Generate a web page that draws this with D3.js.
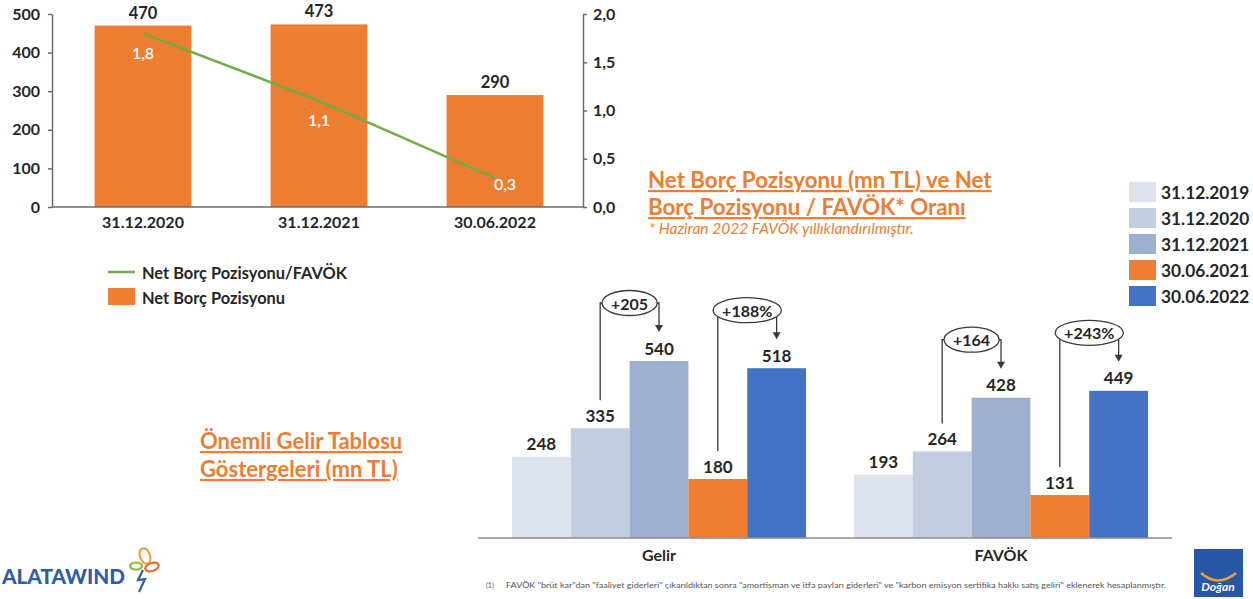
<!DOCTYPE html>
<html><head><meta charset="utf-8">
<script src="https://cdn.jsdelivr.net/npm/d3@7"></script>
<style>
html,body{margin:0;padding:0;background:#fff;}
svg{display:block;font-family:Lato,"Open Sans",sans-serif;}
</style></head>
<body>
<svg id="c" width="1253" height="599"></svg>
<script>
// ---- Top chart data ----
const topDates = ["31.12.2020", "31.12.2021", "30.06.2022"];
const netDebt = [470, 473, 290];
const debtRatio = [1.8, 1.1, 0.3];
const leftTicks = [0, 100, 200, 300, 400, 500];
const rightTicks = [0, 0.5, 1.0, 1.5, 2.0];
const topLegend = ["Net Borç Pozisyonu/FAVÖK", "Net Borç Pozisyonu"];

// ---- Bottom chart data ----
const groups = ["Gelir", "FAVÖK"];
const periods = ["31.12.2019", "31.12.2020", "31.12.2021", "30.06.2021", "30.06.2022"];
const gelirValues = [248, 335, 540, 180, 518];
const favokValues = [193, 264, 428, 131, 449];
const noteFrom = [1, 3];
const noteTo = [2, 4];
const gelirNotes = ["+205", "+188%"];
const favokNotes = ["+164", "+243%"];

const ORANGE = "#ED7D31", GREEN = "#70AD47", DARK = "#262626", AXIS = "#6b6b6b";
const periodColors = ["#DCE3EE", "#C2CDE0", "#9DB0CF", "#ED7D31", "#4472C4"];

const svg = d3.select("#c");

// ================= TOP CHART =================
const xT = d3.scaleBand().domain(topDates).range([55, 583]).paddingInner(0.45).paddingOuter(0.225);
const yL = d3.scaleLinear().domain([0, 500]).range([207, 14]);
const yR = d3.scaleLinear().domain([0, 2]).range([207, 14]);

const topG = svg.append("g");
topG.selectAll("rect.nb").data(netDebt).join("rect")
  .attr("x", (d, i) => xT(topDates[i])).attr("width", xT.bandwidth())
  .attr("y", d => yL(d)).attr("height", d => yL(0) - yL(d)).attr("fill", ORANGE);

const axL = topG.append("g").attr("transform", "translate(52,0)")
  .call(d3.axisLeft(yL).tickValues(leftTicks).tickSize(4).tickSizeOuter(0).tickPadding(8).tickFormat(d3.format("d")));
const axR = topG.append("g").attr("transform", "translate(583,0)")
  .call(d3.axisRight(yR).tickValues(rightTicks).tickSize(4).tickSizeOuter(0).tickPadding(6).tickFormat(d => d.toFixed(1).replace(".", ",")));
[axL, axR].forEach(a => {
  a.select(".domain").attr("stroke", AXIS).attr("stroke-width", 1.5);
  a.selectAll(".tick line").attr("stroke", AXIS).attr("stroke-width", 1.5);
  a.selectAll("text").attr("font-family", "Lato").attr("font-weight", 700).attr("font-size", 16).attr("fill", DARK);
});
const axB = topG.append("g").attr("transform", "translate(0,207)")
  .call(d3.axisBottom(xT).tickSize(0).tickSizeOuter(0).tickPadding(10));
axB.select(".domain").attr("stroke", AXIS).attr("stroke-width", 1.5).attr("d", "M52,0H583");
axB.selectAll("text").attr("font-family", "Lato").attr("font-weight", 700).attr("font-size", 16).attr("fill", DARK);

topG.selectAll("text.nbl").data(netDebt).join("text")
  .attr("x", (d, i) => xT(topDates[i]) + xT.bandwidth() / 2).attr("y", d => yL(d) - 13)
  .attr("text-anchor", "middle").attr("dominant-baseline", "central")
  .attr("font-weight", 700).attr("font-size", 16.5).attr("fill", DARK).text(d => d);

const cx = (i) => xT(topDates[i]) + xT.bandwidth() / 2;
topG.append("path").datum(debtRatio)
  .attr("d", d3.line().x((d, i) => cx(i)).y(d => yR(d)))
  .attr("fill", "none").attr("stroke", GREEN).attr("stroke-width", 2.5);
topG.selectAll("text.rl").data(debtRatio).join("text")
  .attr("x", (d, i) => cx(i) + (i === debtRatio.length - 1 ? 10 : 0))
  .attr("y", (d, i) => yR(d) + (i === debtRatio.length - 1 ? 5 : 19))
  .attr("text-anchor", "middle").attr("dominant-baseline", "central")
  .attr("font-size", 16).attr("font-weight", 600).attr("fill", "#fff")
  .text(d => d.toFixed(1).replace(".", ","));

// top legend
const tl = svg.append("g");
tl.append("line").attr("x1", 108).attr("x2", 135).attr("y1", 272).attr("y2", 272).attr("stroke", GREEN).attr("stroke-width", 2.5);
tl.append("rect").attr("x", 108).attr("y", 288).attr("width", 27).attr("height", 17).attr("fill", ORANGE);
tl.selectAll("text").data(topLegend).join("text")
  .attr("x", 142).attr("y", (d, i) => 272 + i * 25).attr("dominant-baseline", "central")
  .attr("font-weight", 700).attr("font-size", 16.4).attr("fill", DARK).text(d => d);

// Titles
function orangeTitle(x, y, lines, size, lh) {
  const g = svg.append("g");
  lines.forEach((t, i) => {
    g.append("text").attr("x", x).attr("y", y + i * lh)
      .attr("font-weight", 700).attr("font-size", size).attr("fill", ORANGE)
      .attr("text-decoration", "underline").text(t);
  });
}
orangeTitle(648, 188, ["Net Borç Pozisyonu (mn TL) ve Net", "Borç Pozisyonu / FAVÖK* Oranı"], 22.3, 27);
svg.append("text").attr("x", 649).attr("y", 234).attr("font-style", "italic")
  .attr("font-size", 15.5).attr("fill", ORANGE).text("* Haziran 2022 FAVÖK yıllıklandırılmıştır.");
orangeTitle(200, 449, ["Önemli Gelir Tablosu", "Göstergeleri (mn TL)"], 22, 28);

// ================= BOTTOM CHART =================
const x0 = d3.scaleBand().domain(groups).range([488, 1172]).paddingInner(0.14).paddingOuter(0.07);
const x1 = d3.scaleBand().domain(periods).range([0, x0.bandwidth()]).padding(0);
const yB = d3.scaleLinear().domain([0, 540]).range([538, 361]);
const groupValues = [gelirValues, favokValues];
const groupNotes = [gelirNotes, favokNotes];

const bot = svg.append("g");
groups.forEach((g, gi) => {
  const gg = bot.append("g").attr("transform", `translate(${x0(g)},0)`);
  gg.selectAll("rect").data(groupValues[gi]).join("rect")
    .attr("x", (d, i) => x1(periods[i])).attr("width", x1.bandwidth())
    .attr("y", d => yB(d)).attr("height", d => yB(0) - yB(d))
    .attr("fill", (d, i) => periodColors[i]);
  gg.selectAll("text").data(groupValues[gi]).join("text")
    .attr("x", (d, i) => x1(periods[i]) + x1.bandwidth() / 2).attr("y", d => yB(d) - 13)
    .attr("text-anchor", "middle").attr("dominant-baseline", "central")
    .attr("font-weight", 700).attr("font-size", 17).attr("fill", DARK).text(d => d);
});
const axG = bot.append("g").attr("transform", "translate(0,538)")
  .call(d3.axisBottom(x0).tickSize(0).tickSizeOuter(0).tickPadding(12));
axG.select(".domain").attr("stroke", "#8c8c8c").attr("stroke-width", 1.3).attr("d", "M478,0H1172");
axG.selectAll("text").attr("font-family", "Lato").attr("font-weight", 700).attr("font-size", 16).attr("fill", DARK);

// annotations
const notes = bot.append("g");
groups.forEach((g, gi) => {
  noteFrom.forEach((fi, k) => {
    const ti = noteTo[k];
    const vals = groupValues[gi];
    const xa = x0(g) + x1(periods[fi]) + x1.bandwidth() / 2;
    const xb = x0(g) + x1(periods[ti]) + x1.bandwidth() / 2;
    const cy = yB(vals[ti]) - 58;
    const ya = yB(vals[fi]) - 28;
    const tip = yB(vals[ti]) - 29;
    notes.append("path").attr("d", `M${xa},${ya}V${cy}H${xb}V${tip - 6}`)
      .attr("fill", "none").attr("stroke", "#3a3a3a").attr("stroke-width", 1.3);
    notes.append("path").attr("d", `M${xb - 4},${tip - 7}L${xb + 4},${tip - 7}L${xb},${tip}Z`).attr("fill", "#3a3a3a");
    const mid = (xa + xb) / 2;
    const el = notes.append("ellipse").attr("cx", mid).attr("cy", cy).attr("ry", 12.5)
      .attr("fill", "#fff").attr("stroke", "#3a3a3a").attr("stroke-width", 1.3);
    const t = notes.append("text").attr("x", mid).attr("y", cy).attr("text-anchor", "middle")
      .attr("dominant-baseline", "central").attr("font-weight", 700).attr("font-size", 16)
      .attr("fill", DARK).text(groupNotes[gi][k]);
    el.attr("rx", t.node().getComputedTextLength() / 2 + 9);
  });
});

// right legend
const rl = svg.append("g");
periods.forEach((p, i) => {
  rl.append("rect").attr("x", 1129).attr("y", 182 + i * 26).attr("width", 27).attr("height", 20).attr("fill", periodColors[i]);
  rl.append("text").attr("x", 1161).attr("y", 192 + i * 26).attr("dominant-baseline", "central")
    .attr("font-weight", 700).attr("font-size", 17.3).attr("fill", DARK).text(p);
});

// footnote
svg.append("text").attr("x", 486).attr("y", 588).attr("font-size", 7).attr("fill", "#555")
  .text("(1)");
svg.append("text").attr("x", 506).attr("y", 588).attr("font-size", 7).attr("fill", "#555")
  .attr("textLength", 660).attr("lengthAdjust", "spacingAndGlyphs")
  .text("FAVÖK \"brüt kar\"dan \"faaliyet giderleri\" çıkarıldıktan sonra \"amortisman ve itfa payları giderleri\" ve  \"karbon emisyon sertifika hakkı satış geliri\" eklenerek hesaplanmıştır.");

// ALATAWIND logo
const lg = svg.append("g");
lg.append("text").attr("x", 2).attr("y", 584).attr("font-weight", 900).attr("font-size", 20)
  .attr("fill", "#2d5fa6").attr("textLength", 123).attr("lengthAdjust", "spacingAndGlyphs").text("ALATAWIND");
lg.append("ellipse").attr("cx", 145).attr("cy", 556).attr("rx", 5).attr("ry", 8).attr("transform", "rotate(-20,145,556)")
  .attr("fill", "none").attr("stroke", "#f0a040").attr("stroke-width", 2.2);
lg.append("ellipse").attr("cx", 152).attr("cy", 567).attr("rx", 7).attr("ry", 4).attr("transform", "rotate(-20,152,567)")
  .attr("fill", "none").attr("stroke", "#e07030").attr("stroke-width", 2.2);
lg.append("ellipse").attr("cx", 136).attr("cy", 566).attr("rx", 6).attr("ry", 3.5)
  .attr("fill", "none").attr("stroke", "#8dc040").attr("stroke-width", 2.2);
lg.append("path").attr("d", "M143,570L138,580L145,579L139,592").attr("fill", "none").attr("stroke", "#2d5fa6").attr("stroke-width", 2.2);

// Dogan logo
const dg = svg.append("g");
dg.append("rect").attr("x", 1194).attr("y", 549).attr("width", 49).attr("height", 48).attr("fill", "#2756a6");
dg.append("path").attr("d", "M1201,573Q1218,588 1236,573").attr("fill", "none").attr("stroke", "#f0a030").attr("stroke-width", 2.5);
dg.append("text").attr("x", 1218).attr("y", 591).attr("text-anchor", "middle").attr("font-style", "italic")
  .attr("font-weight", 700).attr("font-size", 12).attr("fill", "#fff").text("Doğan");
</script>
</body></html>
